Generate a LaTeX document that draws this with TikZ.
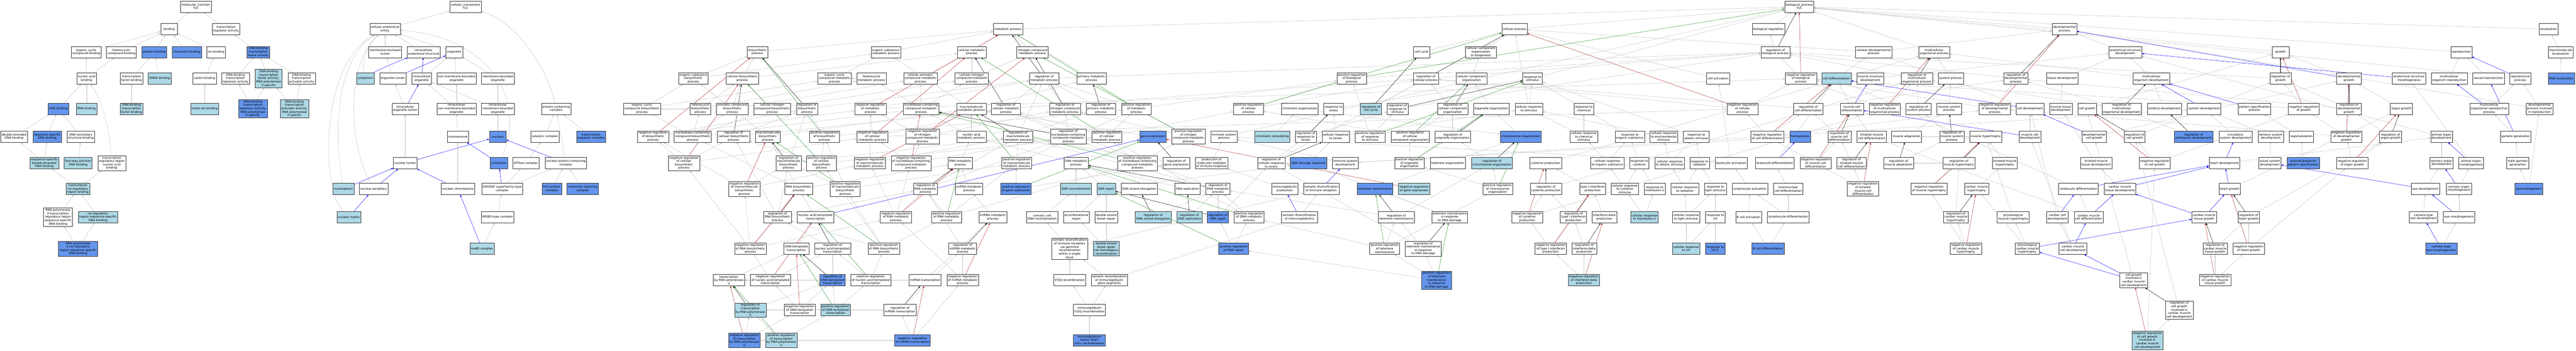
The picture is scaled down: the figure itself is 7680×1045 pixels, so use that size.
\documentclass[tikz,border=0pt]{standalone}
\usepackage{fontspec}
\setmainfont{DejaVu Sans}
\usetikzlibrary{arrows.meta,backgrounds}
\definecolor{lightblu}{RGB}{173,216,230}
\definecolor{cornflower}{RGB}{100,149,237}
\definecolor{firebrk}{RGB}{178,34,34}
\definecolor{forestgrn}{RGB}{34,139,34}
\definecolor{edgegray}{RGB}{192,192,192}
\newcommand\gofont{\fontsize{8.9}{10.2}\selectfont}

\begin{document}
\begin{tikzpicture}[x=1pt,y=-1pt,
    term/.style={draw=black!80, line width=0.7pt, fill=white, align=center, font=\gofont,
                 minimum width=50pt, minimum height=34pt, inner xsep=3pt, inner ysep=2.5pt},
    termlite/.style={term, fill=lightblu},
    termdark/.style={term, fill=cornflower},
    isa/.style={draw=edgegray, line width=0.7pt, -{Latex[length=6pt,width=5pt]}},
    partof/.style={isa, draw=blue},
    regl/.style={isa, draw=black},
    negr/.style={isa, draw=firebrk},
    posr/.style={isa, draw=forestgrn}]
\useasboundingbox (0,0) rectangle (7680,1045);

% molecular function
\node[term] (mf) at (584,20) {molecular\_function\\Yy1};
\node[term] (bind) at (504,87) {binding};
\node[term] (tra) at (674,87) {transcription\\regulator activity};
\node[term] (occb) at (257,155) {organic cyclic\\compound binding};
\node[term] (hcb) at (362,155) {heterocyclic\\compound binding};
\node[termdark] (protb) at (460,155) {protein binding};
\node[termdark] (chromb) at (557,155) {chromatin binding};
\node[term] (ionb) at (644,155) {ion binding};
\node[termdark] (dbtfa) at (770,155) {DNA-binding\\transcription\\factor activity};
\node[term] (nab) at (258,234) {nucleic acid\\binding};
\node[term] (tfb) at (392,234) {transcription\\factor binding};
\node[termlite] (smadb) at (476,234) {SMAD binding};
\node[term] (catb) at (610,234) {cation binding};
\node[term] (dbtra) at (702,234) {DNA-binding\\transcription\\repressor activity};
\node[termlite] (dbtf2) at (801,234) {DNA-binding\\transcription\\factor activity,\\RNA polymerase\\II-specific};
\node[term] (dbtaa) at (899,234) {DNA-binding\\transcription\\activator activity};
\node[termdark] (dnab) at (174,324) {DNA binding};
\node[termlite] (rnab) at (258,324) {RNA binding};
\node[termlite] (dbtfb) at (392,324) {DNA-binding\\transcription\\factor binding};
\node[termlite] (mib) at (610,324) {metal ion binding};
\node[termdark] (dbtra2) at (754,324) {DNA-binding\\transcription\\repressor activity,\\RNA polymerase\\II-specific};
\node[termlite] (dbtaa2) at (878,324) {DNA-binding\\transcription\\activator activity,\\RNA polymerase\\II-specific};
\node[term] (dsdb) at (42,407) {double-stranded\\DNA binding};
\node[termdark] (ssdb) at (141,407) {sequence-specific\\DNA binding};
\node[term] (dssb) at (241,407) {DNA secondary\\structure binding};
\node[termlite] (ssdsdb) at (132,486) {sequence-specific\\double-stranded\\DNA binding};
\node[termlite] (fwjb) at (233,486) {four-way junction\\DNA binding};
\node[term] (trrnab) at (333,486) {transcription\\regulatory region\\nucleic acid\\binding};
\node[termlite] (tcrrb) at (232,563) {transcription\\cis-regulatory\\region binding};
\node[term] (rp2trr) at (173,647) {RNA polymerase\\II transcription\\regulatory region\\sequence-specific\\DNA binding};
\node[termlite] (crrssdb) at (292,647) {cis-regulatory\\region sequence-specific\\DNA binding};
\node[termdark] (rp2crr) at (233,741) {RNA polymerase\\II cis-regulatory\\region sequence-specific\\DNA binding};

% cellular component
\node[term] (cc) at (1388,20) {cellular\_component\\Yy1};
\node[term] (cae) at (1148,87) {cellular anatomical\\entity};
\node[term] (mel) at (1148,155) {membrane-enclosed\\lumen};
\node[term] (ias) at (1263,155) {intracellular\\anatomical structure};
\node[term] (org) at (1354,155) {organelle};
\node[termlite] (cyto) at (1089,234) {cytoplasm};
\node[term] (orgl) at (1171,234) {organelle lumen};
\node[term] (iorg) at (1257,234) {intracellular\\organelle};
\node[term] (nmbo) at (1361,234) {non-membrane-bounded\\organelle};
\node[term] (mbo) at (1484,234) {membrane-bounded\\organelle};
\node[term] (iorgl) at (1208,324) {intracellular\\organelle lumen};
\node[term] (inmbo) at (1361,324) {intracellular\\non-membrane-bounded\\organelle};
\node[term] (imbo) at (1484,324) {intracellular\\membrane-bounded\\organelle};
\node[term] (pcc) at (1658,324) {protein-containing\\complex};
\node[term] (chrom) at (1365,407) {chromosome};
\node[termdark] (nuc) at (1484,407) {nucleus};
\node[term] (catc) at (1624,407) {catalytic complex};
\node[termdark] (trc) at (1762,407) {transcription\\regulator complex};
\node[term] (nlum) at (1208,486) {nuclear lumen};
\node[termdark] (chromatin) at (1487,486) {chromatin};
\node[term] (atpc) at (1568,486) {ATPase complex};
\node[term] (npcc) at (1687,486) {nuclear protein-containing\\complex};
\node[termlite] (nplasm) at (1024,563) {nucleoplasm};
\node[term] (nper) at (1114,563) {nuclear periphery};
\node[term] (nchrom) at (1365,563) {nuclear chromosome};
\node[term] (swisnf) at (1497,563) {SWI/SNF superfamily-type\\complex};
\node[termdark] (pcg) at (1645,563) {PcG protein\\complex};
\node[termdark] (csc) at (1737,563) {chromatin silencing\\complex};
\node[termlite] (nmat) at (1040,647) {nuclear matrix};
\node[term] (ino80t) at (1483,647) {INO80-type complex};
\node[termlite] (ino80) at (1437,741) {Ino80 complex};

% biological process, rows 0-2
\node[term] (bp) at (5364,20) {biological\_process\\Yy1};
\node[term] (mp) at (3005,87) {metabolic process};
\node[term] (cp) at (4515,87) {cellular process};
\node[term] (breg) at (5272,87) {biological regulation};
\node[term] (devp) at (6155,87) {developmental\\process};
\node[term] (loc) at (7598,87) {localization};
\node[term] (bsp) at (2258,155) {biosynthetic\\process};
\node[term] (osmp) at (2641,155) {organic substance\\metabolic process};
\node[term] (cmp) at (2897,155) {cellular metabolic\\process};
\node[term] (ncmp) at (3078,155) {nitrogen compound\\metabolic process};
\node[term] (ccyc) at (4238,155) {cell cycle};
\node[term] (ccob) at (4415,155) {cellular component\\organization\\or biogenesis};
\node[term] (rbp) at (5293,155) {regulation of\\biological process};
\node[term] (cdp) at (5586,155) {cellular developmental\\process};
\node[term] (mop) at (5766,155) {multicellular\\organismal process};
\node[term] (asd) at (6336,155) {anatomical structure\\development};
\node[term] (growth) at (6799,155) {growth};
\node[term] (repro) at (7338,155) {reproduction};
\node[term] (mloc) at (7634,155) {macromolecule\\localization};

% row 3
\node[term] (osbp) at (2067,234) {organic substance\\biosynthetic\\process};
\node[term] (cbp) at (2213,234) {cellular biosynthetic\\process};
\node[term] (occmp) at (2488,234) {organic cyclic\\compound metabolic\\process};
\node[term] (hmp) at (2598,234) {heterocycle\\metabolic process};
\node[term] (cacmp) at (2744,234) {cellular aromatic\\compound metabolic\\process};
\node[term] (cncmp) at (2897,234) {cellular nitrogen\\compound metabolic\\process};
\node[term] (rmp) at (3113,234) {regulation of\\metabolic process};
\node[term] (pmp) at (3254,234) {primary metabolic\\process};
\node[term] (posbio) at (4030,234) {positive regulation\\of biological\\process};
\node[term] (rcp) at (4251,234) {regulation of\\cellular process};
\node[term] (cco) at (4387,234) {cellular component\\organization};
\node[term] (rts) at (4569,234) {response to\\stimulus};
\node[term] (cact) at (5122,234) {cell activation};
\node[term] (negbio) at (5369,234) {negative regulation\\of biological\\process};
\node[termlite] (cdiff) at (5475,234) {cell differentiation};
\node[term] (msd) at (5576,234) {muscle structure\\development};
\node[term] (rmop) at (5715,234) {regulation of\\multicellular\\organismal process};
\node[term] (sysp) at (5816,234) {system process};
\node[term] (rdevp) at (6010,234) {regulation of\\developmental\\process};
\node[term] (tisd) at (6148,234) {tissue development};
\node[term] (mod) at (6414,234) {multicellular\\organism development};
\node[term] (rgrowth) at (6799,234) {regulation of\\growth};
\node[term] (devg) at (7003,234) {developmental\\growth};
\node[term] (asm) at (7182,234) {anatomical structure\\morphogenesis};
\node[term] (morep) at (7302,234) {multicellular\\organism reproduction};
\node[term] (sexr) at (7419,234) {sexual reproduction};
\node[term] (rprocp) at (7514,234) {reproductive\\process};
\node[termdark] (rnaloc) at (7636,234) {RNA localization};

% row 4
\node[term] (occbp) at (1914,324) {organic cyclic\\compound biosynthetic\\process};
\node[term] (hbp) at (2088,324) {heterocycle\\biosynthetic\\process};
\node[term] (acbp) at (2183,324) {aromatic compound\\biosynthetic\\process};
\node[term] (cncbp) at (2302,324) {cellular nitrogen\\compound biosynthetic\\process};
\node[term] (rbsp) at (2406,324) {regulation of\\biosynthetic\\process};
\node[term] (nrmp) at (2595,324) {negative regulation\\of metabolic\\process};
\node[term] (nccmp) at (2746,324) {nucleobase-containing\\compound metabolic\\process};
\node[term] (macmp) at (2896,324) {macromolecule\\metabolic process};
\node[term] (rcmp) at (2999,324) {regulation of\\cellular metabolic\\process};
\node[term] (rncmp) at (3175,324) {regulation of\\nitrogen compound\\metabolic process};
\node[term] (rpmp) at (3282,324) {regulation of\\primary metabolic\\process};
\node[term] (prmp) at (3388,324) {positive regulation\\of metabolic\\process};
\node[term] (prcp) at (3722,324) {positive regulation\\of cellular\\process};
\node[term] (chorg) at (3875,324) {chromatin organization};
\node[term] (rstress) at (3976,324) {response to\\stress};
\node[termlite] (rccyc) at (4087,324) {regulation of\\cell cycle};
\node[term] (rrstim) at (4167,324) {regulation of\\response to\\stimulus};
\node[term] (rcco) at (4331,324) {regulation of\\cellular component\\organization};
\node[term] (oorg) at (4446,324) {organelle organization};
\node[term] (crstim) at (4558,324) {cellular response\\to stimulus};
\node[term] (rchem) at (4722,324) {response to\\chemical};
\node[term] (nrcp) at (5195,324) {negative regulation\\of cellular\\process};
\node[term] (rcdiff) at (5391,324) {regulation of\\cell differentiation};
\node[term] (mcdiff) at (5521,324) {muscle cell\\differentiation};
\node[term] (nrmop) at (5619,324) {negative regulation\\of multicellular\\organismal process};
\node[term] (rsysp) at (5720,324) {regulation of\\system process};
\node[term] (msysp) at (5811,324) {muscle system\\process};
\node[term] (nrdevp) at (5947,324) {negative regulation\\of developmental\\process};
\node[term] (celld) at (6052,324) {cell development};
\node[term] (mtd) at (6144,324) {muscle tissue\\development};
\node[term] (cgrowth) at (6222,324) {cell growth};
\node[term] (rmod) at (6325,324) {regulation of\\multicellular\\organismal development};
\node[term] (embd) at (6453,324) {embryo development};
\node[term] (sysd) at (6571,324) {system development};
\node[term] (pspec) at (6721,324) {pattern specification\\process};
\node[term] (nrgrowth) at (6868,324) {negative regulation\\of growth};
\node[term] (rdevg) at (7003,324) {regulation of\\developmental\\growth};
\node[term] (ogrowth) at (7159,324) {organ growth};
\node[term] (morp) at (7421,324) {multicellular\\organismal reproductive\\process};
\node[term] (dpir) at (7571,324) {developmental\\process involved\\in reproduction};

% row 5
\node[term] (nrbsp) at (1947,407) {negative regulation\\of biosynthetic\\process};
\node[term] (nccbp) at (2065,407) {nucleobase-containing\\compound biosynthetic\\process};
\node[term] (rcbp) at (2187,407) {regulation of\\cellular biosynthetic\\process};
\node[term] (macbp) at (2289,407) {macromolecule\\biosynthetic\\process};
\node[term] (prbsp) at (2458,407) {positive regulation\\of biosynthetic\\process};
\node[term] (nrcmp) at (2601,407) {negative regulation\\of cellular\\metabolic process};
\node[term] (nrncmp) at (2750,407) {negative regulation\\of nitrogen\\compound metabolic\\process};
\node[term] (namp) at (2896,407) {nucleic acid\\metabolic process};
\node[term] (rmacmp) at (3035,407) {regulation of\\macromolecule\\metabolic process};
\node[term] (rnccmp) at (3185,407) {regulation of\\nucleobase-containing\\compound metabolic\\process};
\node[term] (prcmp) at (3300,407) {positive regulation\\of cellular\\metabolic process};
\node[termdark] (gexp) at (3437,407) {gene expression};
\node[term] (prncmp) at (3543,407) {positive regulation\\of nitrogen\\compound metabolic\\process};
\node[term] (isp) at (3649,407) {immune system\\process};
\node[termlite] (chrem) at (3793,407) {chromatin remodeling};
\node[term] (rrstress) at (3893,407) {regulation of\\response to\\stress};
\node[term] (crstress) at (3982,407) {cellular response\\to stress};
\node[term] (prrstim) at (4085,407) {positive regulation\\of response\\to stimulus};
\node[term] (prcco) at (4204,407) {positive regulation\\of cellular\\component organization};
\node[term] (roorg) at (4331,407) {regulation of\\organelle organization};
\node[termdark] (chrorg) at (4534,407) {chromosome organization};
\node[term] (crchem) at (4722,407) {cellular response\\to chemical\\stimulus};
\node[term] (rorgs) at (4859,407) {response to\\organic substance};
\node[term] (crenv) at (4960,407) {cellular response\\to environmental\\stimulus};
\node[term] (rabio) at (5057,407) {response to\\abiotic stimulus};
\node[term] (nrcdiff) at (5269,407) {negative regulation\\of cell differentiation};
\node[termdark] (hemo) at (5367,407) {hemopoiesis};
\node[term] (rmcdiff) at (5484,407) {regulation of\\muscle cell\\differentiation};
\node[term] (smcdiff) at (5580,407) {striated muscle\\cell differentiation};
\node[term] (madapt) at (5684,407) {muscle adaptation};
\node[term] (rmsysp) at (5819,407) {regulation of\\muscle system\\process};
\node[term] (mhyp) at (5920,407) {muscle hypertrophy};
\node[term] (mcdev) at (6052,407) {muscle cell\\development};
\node[term] (dcg) at (6243,407) {developmental\\cell growth};
\node[term] (rcg) at (6364,407) {regulation of\\cell growth};
\node[termdark] (rembd) at (6540,407) {regulation of\\embryonic development};
\node[term] (csd) at (6665,407) {circulatory\\system development};
\node[term] (ssd) at (6770,407) {sensory system\\development};
\node[term] (regio) at (6861,407) {regionalization};
\node[term] (nrdevg) at (6995,407) {negative regulation\\of developmental\\growth};
\node[term] (rog) at (7127,407) {regulation of\\organ growth};
\node[term] (aod) at (7279,407) {animal organ\\development};
\node[term] (gamg) at (7500,407) {gamete generation};

% row 6
\node[term] (nrcbp) at (2039,486) {negative regulation\\of cellular\\biosynthetic\\process};
\node[term] (rmacbp) at (2351,486) {regulation of\\macromolecule\\biosynthetic\\process};
\node[term] (prcbp) at (2449,486) {positive regulation\\of cellular\\biosynthetic\\process};
\node[term] (nrmacmp) at (2593,486) {negative regulation\\of macromolecule\\metabolic process};
\node[term] (nrnccmp) at (2716,486) {negative regulation\\of nucleobase-containing\\compound metabolic\\process};
\node[term] (rnamp) at (2863,486) {RNA metabolic\\process};
\node[term] (prmacmp) at (3031,486) {positive regulation\\of macromolecule\\metabolic process};
\node[term] (dnamp) at (3208,486) {DNA metabolic\\process};
\node[term] (prnccmp) at (3391,486) {positive regulation\\of nucleobase-containing\\compound metabolic\\process};
\node[term] (rgexp) at (3507,486) {regulation of\\gene expression};
\node[term] (pmmir) at (3612,486) {production of\\molecular mediator\\of immune response};
\node[term] (rcrstress) at (3790,486) {regulation of\\cellular response\\to stress};
\node[termdark] (ddr) at (3901,486) {DNA damage response};
\node[term] (isd) at (4011,486) {immune system\\development};
\node[term] (proorg) at (4202,486) {positive regulation\\of organelle\\organization};
\node[term] (telorg) at (4316,486) {telomere organization};
\node[termlite] (rchrorg) at (4448,486) {regulation of\\chromosome organization};
\node[term] (cytp) at (4608,486) {cytokine production};
\node[term] (crorgs) at (4792,486) {cellular response\\to organic substance};
\node[term] (rcyt) at (4887,486) {response to\\cytokine};
\node[term] (crabio) at (4978,486) {cellular response\\to abiotic stimulus};
\node[term] (rrad) at (5067,486) {response to\\radiation};
\node[term] (lact) at (5161,486) {leukocyte activation};
\node[term] (ldiff) at (5291,486) {leukocyte differentiation};
\node[term] (nrmcdiff) at (5413,486) {negative regulation\\of muscle cell\\differentiation};
\node[term] (rsmcdiff) at (5520,486) {regulation of\\striated muscle\\cell differentiation};
\node[term] (rmadapt) at (5660,486) {regulation of\\muscle adaptation};
\node[term] (rmhyp) at (5840,486) {regulation of\\muscle hypertrophy};
\node[term] (smhyp) at (5977,486) {striated muscle\\hypertrophy};
\node[term] (smtd) at (6249,486) {striated muscle\\tissue development};
\node[term] (nrcg) at (6424,486) {negative regulation\\of cell growth};
\node[term] (heartd) at (6632,486) {heart development};
\node[term] (vsd) at (6767,486) {visual system\\development};
\node[termdark] (appspec) at (6867,486) {anterior/posterior\\pattern specification};
\node[term] (nrog) at (7013,486) {negative regulation\\of organ growth};
\node[term] (sod) at (7279,486) {sensory organ\\development};
\node[term] (aom) at (7367,486) {animal organ\\morphogenesis};
\node[term] (mgamg) at (7506,486) {male gamete\\generation};

% row 7
\node[term] (nrmacbp) at (2219,563) {negative regulation\\of macromolecule\\biosynthetic\\process};
\node[term] (rnabp) at (2381,563) {RNA biosynthetic\\process};
\node[term] (prmacbp) at (2520,563) {positive regulation\\of macromolecule\\biosynthetic\\process};
\node[term] (rrnamp) at (2759,563) {regulation of\\RNA metabolic\\process};
\node[term] (ncrnamp) at (2889,563) {ncRNA metabolic\\process};
\node[termdark] (prgexp) at (3029,563) {positive regulation\\of gene expression};
\node[termlite] (dnarec) at (3208,563) {DNA recombination};
\node[termlite] (dnarep) at (3298,563) {DNA repair};
\node[term] (dnase) at (3396,563) {DNA strand elongation};
\node[term] (dnarepl) at (3540,563) {DNA replication};
\node[term] (rdnamp) at (3631,563) {regulation of\\DNA metabolic\\process};
\node[term] (igprod) at (3830,563) {immunoglobulin\\production};
\node[term] (sdir) at (3939,563) {somatic diversification\\of immune receptors};
\node[termdark] (telm) at (4099,563) {telomere maintenance};
\node[termlite] (nrgexp) at (4216,563) {negative regulation\\of gene expression};
\node[term] (prchrorg) at (4465,563) {positive regulation\\of chromosome\\organization};
\node[term] (rcytp) at (4609,563) {regulation of\\cytokine production};
\node[term] (tifnp) at (4748,563) {type I interferon\\production};
\node[term] (crcyt) at (4844,563) {cellular response\\to cytokine\\stimulus};
\node[term] (ril1) at (4933,563) {response to\\interleukin-1};
\node[term] (crrad) at (5023,563) {cellular response\\to radiation};
\node[term] (rlight) at (5114,563) {response to\\light stimulus};
\node[term] (lyact) at (5217,563) {lymphocyte activation};
\node[term] (mncdiff) at (5331,563) {mononuclear\\cell differentiation};
\node[term] (nrsmcdiff) at (5554,563) {negative regulation\\of striated\\muscle cell\\differentiation};
\node[term] (nrmhyp) at (5751,563) {negative regulation\\of muscle hypertrophy};
\node[term] (cmhyp) at (5893,563) {cardiac muscle\\hypertrophy};
\node[term] (cardiod) at (6196,563) {cardiocyte differentiation};
\node[term] (cmtd) at (6320,563) {cardiac muscle\\tissue development};
\node[term] (heartg) at (6647,563) {heart growth};
\node[term] (eyed) at (7231,563) {eye development};
\node[term] (som) at (7331,563) {sensory organ\\morphogenesis};
\node[termdark] (sperm) at (7539,563) {spermatogenesis};

% row 8
\node[term] (rrnabp) at (2318,647) {regulation of\\RNA biosynthetic\\process};
\node[term] (natt) at (2431,647) {nucleic acid-templated\\transcription};
\node[term] (nrrnamp) at (2671,647) {negative regulation\\of RNA metabolic\\process};
\node[term] (prrnamp) at (2822,647) {positive regulation\\of RNA metabolic\\process};
\node[term] (mirmp) at (2960,647) {miRNA metabolic\\process};
\node[term] (scdr) at (3107,647) {somatic cell\\DNA recombination};
\node[term] (recrep) at (3209,647) {recombinational\\repair};
\node[term] (dsbr) at (3298,647) {double-strand\\break repair};
\node[termlite] (rdnase) at (3438,647) {regulation of\\DNA strand elongation};
\node[termlite] (rdnarepl) at (3546,647) {regulation of\\DNA replication};
\node[termdark] (rdnarep) at (3631,647) {regulation of\\DNA repair};
\node[term] (prdnamp) at (3724,647) {positive regulation\\of DNA metabolic\\process};
\node[term] (sdig) at (3874,647) {somatic diversification\\of immunoglobulins};
\node[term] (rtelm) at (4163,647) {regulation of\\telomere maintenance};
\node[term] (tmdd) at (4322,647) {telomere maintenance\\in response\\to DNA damage};
\node[term] (nrcytp) at (4553,647) {negative regulation\\of cytokine\\production};
\node[term] (rtifnp) at (4691,647) {regulation of\\type I interferon\\production};
\node[term] (ifnbp) at (4783,647) {interferon-beta\\production};
\node[termlite] (cril1) at (4903,647) {cellular response\\to interleukin-1};
\node[term] (crlight) at (5027,647) {cellular response\\to light stimulus};
\node[term] (ruv) at (5114,647) {response to\\UV};
\node[term] (bcact) at (5213,647) {B cell activation};
\node[term] (lydiff) at (5331,647) {lymphocyte differentiation};
\node[term] (rcmhyp) at (5831,647) {regulation of\\cardiac muscle\\hypertrophy};
\node[term] (pmhyp) at (6002,647) {physiological\\muscle hypertrophy};
\node[term] (ccd) at (6134,647) {cardiac cell\\development};
\node[term] (cmcdiff) at (6227,647) {cardiac muscle\\cell differentiation};
\node[term] (cmtg) at (6571,647) {cardiac muscle\\tissue growth};
\node[term] (rheartg) at (6704,647) {regulation of\\heart growth};
\node[term] (cted) at (7225,647) {camera-type\\eye development};
\node[term] (eyem) at (7331,647) {eye morphogenesis};

% row 9
\node[term] (nrrnabp) at (2237,741) {negative regulation\\of RNA biosynthetic\\process};
\node[term] (dtt) at (2374,741) {DNA-templated\\transcription};
\node[term] (rnatt) at (2482,741) {regulation of\\nucleic acid-templated\\transcription};
\node[term] (prrnabp) at (2635,741) {positive regulation\\of RNA biosynthetic\\process};
\node[term] (rmirmp) at (2870,741) {regulation of\\miRNA metabolic\\process};
\node[term] (sdgl) at (3189,741) {somatic diversification\\of immune receptors\\via germline\\recombination\\within a single\\locus};
\node[termlite] (dsbrhr) at (3298,741) {double-strand\\break repair\\via homologous\\recombination};
\node[termdark] (prdnarep) at (3678,741) {positive regulation\\of DNA repair};
\node[term] (prtelm) at (4128,741) {positive regulation\\of telomere\\maintenance};
\node[term] (rtmdd) at (4243,741) {regulation of\\telomere maintenance\\in response\\to DNA damage};
\node[term] (nrtifnp) at (4623,741) {negative regulation\\of type I interferon\\production};
\node[term] (rifnbp) at (4723,741) {regulation of\\interferon-beta\\production};
\node[termlite] (cruv) at (5027,741) {cellular response\\to UV};
\node[termdark] (ruvc) at (5114,741) {response to\\UV-C};
\node[termdark] (bcdiff) at (5271,741) {B cell differentiation};
\node[term] (nrcmhyp) at (5861,741) {negative regulation\\of cardiac muscle\\hypertrophy};
\node[term] (pcmhyp) at (6044,741) {physiological\\cardiac muscle\\hypertrophy};
\node[term] (cmcd) at (6180,741) {cardiac muscle\\cell development};
\node[term] (rcmtg) at (6604,741) {regulation of\\cardiac muscle\\tissue growth};
\node[term] (nrheartg) at (6704,741) {negative regulation\\of heart growth};
\node[termdark] (ctem) at (7278,741) {camera-type\\eye morphogenesis};

% rows 10-12
\node[term] (trnap2) at (2173,835) {transcription\\by RNA polymerase\\II};
\node[term] (nrnatt) at (2297,835) {negative regulation\\of nucleic acid-templated\\transcription};
\node[termdark] (rdtt) at (2482,835) {regulation of\\DNA-templated\\transcription};
\node[term] (prnatt) at (2596,835) {positive regulation\\of nucleic acid-templated\\transcription};
\node[term] (mirt) at (2758,835) {miRNA transcription};
\node[term] (nrmirmp) at (2870,835) {negative regulation\\of miRNA metabolic\\process};
\node[term] (vdj) at (3189,835) {V(D)J recombination};
\node[term] (sorig) at (3307,835) {somatic recombination\\of immunoglobulin\\gene segments};
\node[termdark] (prtmdd) at (4283,835) {positive regulation\\of telomere\\maintenance\\in response\\to DNA damage};
\node[termlite] (nrifnbp) at (4722,835) {negative regulation\\of interferon-beta\\production};
\node[term] (cgcmcd) at (6361,835) {cell growth\\involved in\\cardiac muscle\\cell development};
\node[term] (nrcmtg) at (6604,835) {negative regulation\\of cardiac muscle\\tissue growth};
\node[termlite] (rtrnap2) at (2237,924) {regulation of\\transcription\\by RNA polymerase\\II};
\node[term] (nrdtt) at (2384,924) {negative regulation\\of DNA-templated\\transcription};
\node[termlite] (prdtt) at (2491,924) {positive regulation\\of DNA-templated\\transcription};
\node[term] (rmirt) at (2683,924) {regulation of\\miRNA transcription};
\node[term] (igvdj) at (3248,924) {immunoglobulin\\V(D)J recombination};
\node[term] (rcgcmcd) at (6497,924) {regulation of\\cell growth\\involved in\\cardiac muscle\\cell development};
\node[termdark] (nrtrnap2) at (2219,1014) {negative regulation\\of transcription\\by RNA polymerase\\II};
\node[termlite] (prtrnap2) at (2329,1014) {positive regulation\\of transcription\\by RNA polymerase\\II};
\node[termdark] (nrmirt) at (2720,1014) {negative regulation\\of miRNA transcription};
\node[termdark] (ighc) at (3248,1014) {immunoglobulin\\heavy chain\\V-D-J recombination};
\node[termlite] (nrcgcmcd) at (6402,1014) {negative regulation\\of cell growth\\involved in\\cardiac muscle\\cell development};

\begin{pgfonlayer}{background}
\fill[white] (0,0) rectangle (7680,1045);
% curved is_a edges
\draw[isa] (trrnab) .. controls (326,380) and (305,300) .. (nab);
\draw[isa] (cyto) .. controls (1078,180) and (1095,135) .. (cae);
\draw[isa] (nplasm) .. controls (995,400) and (1000,175) .. (cae);
\draw[isa] (nper) .. controls (1035,420) and (1035,185) .. (cae);
\draw[isa] (nmat) .. controls (955,560) and (955,190) .. (cae);
\draw[isa] (chromatin) .. controls (1575,300) and (1460,110) .. (cae);
\draw[isa] (pcc) .. controls (1625,180) and (1525,60) .. (cc);
% is_a edges
\foreach \a/\b in {bind/mf, tra/mf, occb/bind, hcb/bind, protb/bind, chromb/bind, ionb/bind, nab/occb, nab/hcb,
    tfb/protb, smadb/protb, catb/ionb, dnab/nab, rnab/nab, dbtfb/tfb, mib/catb, dsdb/dnab, ssdb/dnab,
    dssb/dnab, ssdsdb/dsdb, ssdsdb/ssdb, fwjb/dssb, tcrrb/ssdsdb, tcrrb/trrnab, rp2trr/tcrrb, crrssdb/tcrrb,
    rp2crr/rp2trr, rp2crr/crrssdb, dbtfa/tra, dbtra/dbtfa, dbtf2/dbtfa, dbtaa/dbtfa, dbtra2/dbtra, dbtra2/dbtf2,
    dbtaa2/dbtf2, dbtaa2/dbtaa,
    cae/cc, mel/cae, ias/cae, org/cae, orgl/mel,
    iorg/org, nmbo/org, mbo/org, inmbo/nmbo, inmbo/iorg, imbo/mbo, imbo/iorg, iorgl/orgl, nlum/iorgl, chrom/inmbo,
    nuc/imbo, nchrom/chrom, swisnf/atpc, swisnf/npcc, ino80t/swisnf, ino80/ino80t, catc/pcc, trc/pcc, npcc/pcc,
    atpc/catc, pcg/npcc, csc/npcc,
    mp/bp, cp/bp, breg/bp, devp/bp, loc/bp, rts/bp, isp/bp, growth/bp, repro/bp, mop/bp, rprocp/bp, rbp/breg,
    negbio/rbp, posbio/rbp,
    osmp/mp, cmp/mp, ncmp/mp, pmp/mp, bsp/mp, osbp/bsp, osbp/osmp, cbp/bsp, cbp/cmp, occmp/osmp, hmp/occmp,
    cacmp/cmp, cncmp/cmp, cncmp/ncmp, rmp/rbp, occbp/osbp, occbp/occmp, hbp/cbp, hbp/hmp, hbp/occbp, acbp/cbp,
    acbp/cacmp, cncbp/cbp, cncbp/cncmp, rbsp/rmp, nrmp/rmp, nrmp/negbio, nccmp/cacmp, nccmp/hmp, nccmp/cncmp,
    macmp/osmp, macmp/pmp, rcmp/rmp, rcmp/rcp, rncmp/rmp, rpmp/rmp, prmp/rmp, prmp/posbio, nrbsp/rbsp, nrbsp/nrmp,
    nccbp/hbp, nccbp/acbp, nccbp/cncbp, nccbp/occbp, nccbp/nccmp, rcbp/rbsp, rcbp/rcmp, macbp/osbp, macbp/macmp,
    prbsp/rbsp, prbsp/prmp, nrcmp/nrmp, nrcmp/rcmp, nrcmp/nrcp, nrncmp/nrmp, nrncmp/rncmp, namp/nccmp, namp/macmp,
    rmacmp/rmp, rmacmp/rpmp, rnccmp/rcmp, rnccmp/rncmp, prcmp/prmp, prcmp/rcmp, prcmp/prcp, gexp/macmp,
    prncmp/prmp, prncmp/rncmp, nrcbp/nrbsp, nrcbp/rcbp, nrcbp/nrcmp, rmacbp/rbsp, rmacbp/rmacmp, prcbp/prbsp,
    prcbp/rcbp, prcbp/prcmp, nrmacmp/nrmp, nrmacmp/rmacmp, nrnccmp/nrcmp, nrnccmp/nrncmp, nrnccmp/rnccmp,
    rnamp/namp, prmacmp/prmp, prmacmp/rmacmp, dnamp/namp, prnccmp/prcmp, prnccmp/prncmp, prnccmp/rnccmp,
    rgexp/rmacmp, nrmacbp/nrbsp, nrmacbp/rmacbp, nrmacbp/nrmacmp, rnabp/macbp, rnabp/nccbp, rnabp/rnamp,
    prmacbp/prbsp, prmacbp/rmacbp, prmacbp/prmacmp, rrnamp/rnccmp, rrnamp/rmacmp, ncrnamp/rnamp, prgexp/rgexp,
    prgexp/prmacmp, rrnabp/rcbp, rrnabp/rmacbp, rrnabp/rrnamp, natt/rnabp, nrrnamp/rrnamp, nrrnamp/nrnccmp,
    nrrnamp/nrmacmp, prrnamp/rrnamp, prrnamp/prnccmp, prrnamp/prmacmp, mirmp/ncrnamp, nrrnabp/nrmacbp,
    nrrnabp/rrnabp, nrrnabp/nrcbp, nrrnabp/nrrnamp, dtt/natt, rnatt/rrnabp, prrnabp/prmacbp, prrnabp/rrnabp,
    prrnabp/prrnamp, prrnabp/prcbp, rmirmp/rrnamp, trnap2/dtt, nrnatt/nrrnabp, nrnatt/rnatt, rdtt/rnatt,
    prnatt/rnatt, prnatt/prrnabp, mirt/trnap2, mirt/mirmp, nrmirmp/rmirmp, nrmirmp/nrrnamp, rtrnap2/rdtt,
    nrdtt/nrnatt, nrdtt/rdtt, prdtt/rdtt, prdtt/prnatt, rmirt/rtrnap2, rmirt/rmirmp, nrtrnap2/rtrnap2,
    nrtrnap2/nrdtt, prtrnap2/rtrnap2, prtrnap2/prdtt, nrmirt/rmirt, nrmirt/nrmirmp, nrmirt/nrtrnap2,
    dnarec/dnamp, dnarep/dnamp, dnarep/ddr, dnase/dnamp, dnarepl/dnamp, rdnamp/rcmp, rdnamp/rmacmp,
    rdnarep/rdnamp, rdnarep/rcrstress, rdnase/rdnamp, rdnarepl/rdnamp, prdnamp/rdnamp, prdnamp/prcmp,
    prdnarep/rdnarep, prdnarep/prdnamp, dsbr/dnarep, recrep/dnarep, recrep/dnarec, dsbrhr/dsbr, dsbrhr/recrep,
    scdr/dnarec, sdgl/scdr, sdgl/sdir, vdj/sdgl, sorig/sdig, sorig/sdgl, igvdj/vdj, igvdj/sorig, ighc/igvdj,
    sdig/sdir, igprod/pmmir, pmmir/isp, isd/isp, isd/sysd, ddr/crstress, crstress/rstress, crstress/crstim,
    rstress/rts, rrstress/rrstim, rcrstress/rrstress, rcrstress/rcp, chrem/chorg, chorg/chrorg, telorg/chrorg,
    telm/telorg, rtelm/rchrorg, rtelm/rdnamp, tmdd/telm, tmdd/ddr, prtelm/rtelm, prtelm/prchrorg, prtelm/prdnamp,
    rtmdd/rtelm, rtmdd/rcrstress, prtmdd/rtmdd, prtmdd/prtelm, prtmdd/prdnarep,
    ccyc/cp, ccob/cp, cco/ccob, oorg/cco, chrorg/oorg, rccyc/rcp, rcp/rbp, prcp/posbio, prcp/rcp, nrcp/negbio,
    nrcp/rcp, rcco/rcp, roorg/rcco, prcco/rcco, prcco/prcp, proorg/roorg, proorg/prcco, rchrorg/roorg,
    prchrorg/rchrorg, prchrorg/proorg, rrstim/rbp, prrstim/rrstim, prrstim/posbio, crstim/rts, crstim/cp,
    rchem/rts, crchem/rchem, crchem/crstim, rorgs/rchem, crorgs/crchem, crorgs/rorgs, rcyt/rorgs, crcyt/crorgs,
    crcyt/rcyt, ril1/rcyt, cril1/crcyt, cril1/ril1, crenv/crstim, rabio/rts, crabio/rabio, crabio/crenv,
    rrad/rabio, crrad/crabio, crrad/rrad, rlight/rrad, crlight/crrad, crlight/rlight, ruv/rlight, cruv/crlight,
    cruv/ruv, ruvc/ruv,
    cytp/mop, rcytp/rmop, nrcytp/rcytp, nrcytp/nrmop, tifnp/cytp, rtifnp/rcytp, ifnbp/tifnp, nrtifnp/rtifnp,
    nrtifnp/nrcytp, rifnbp/rtifnp, nrifnbp/rifnbp, nrifnbp/nrtifnp,
    cact/cp, lact/cact, lact/isp, lyact/lact, bcact/lyact, cdp/devp, cdp/cp, cdiff/cdp, rcdiff/rdevp, rcdiff/rcp,
    nrcdiff/rcdiff, nrcdiff/nrdevp, nrcdiff/nrcp, hemo/isd, ldiff/cdiff, mncdiff/ldiff, lydiff/mncdiff,
    lydiff/lyact, bcdiff/lydiff, bcdiff/bcact, mcdiff/cdiff, rmcdiff/rcdiff, smcdiff/mcdiff, nrmcdiff/rmcdiff,
    nrmcdiff/nrcdiff, rsmcdiff/rmcdiff, nrsmcdiff/rsmcdiff, nrsmcdiff/nrmcdiff, msd/asd,
    sysp/mop, rmop/rbp, nrmop/rmop, nrmop/negbio, rsysp/rmop, msysp/sysp, rmsysp/rsysp, madapt/msysp,
    rmadapt/rmsysp, mhyp/madapt, rmhyp/rmadapt, nrmhyp/rmhyp, smhyp/mhyp, cmhyp/smhyp, rcmhyp/rmhyp,
    nrcmhyp/rcmhyp, nrcmhyp/nrmhyp, pmhyp/mhyp, pcmhyp/pmhyp, pcmhyp/cmhyp,
    asd/devp, tisd/asd, mtd/tisd, smtd/mtd, cmtd/smtd, celld/cdp, mcdev/celld, ccd/celld, cmcd/ccd, cmcd/mcdev,
    cmcdiff/cardiod, cmcdiff/smcdiff, cardiod/cdiff, cgrowth/growth, dcg/cgrowth, dcg/devg, cgcmcd/dcg,
    rcg/rgrowth, nrcg/rcg, nrcg/nrgrowth, rcgcmcd/rcg, nrcgcmcd/rcgcmcd, nrcgcmcd/nrcg, rgrowth/rbp,
    nrgrowth/rgrowth, nrgrowth/negbio, devg/growth, rdevg/rgrowth, rdevg/rdevp, nrdevg/rdevg, nrdevg/nrgrowth,
    nrdevg/nrdevp, rdevp/rbp, nrdevp/rdevp, nrdevp/negbio, mod/asd, mod/mop, rmod/rmop, rmod/rdevp, rembd/rmod,
    embd/mod, csd/sysd, heartd/aod, ssd/sysd, vsd/ssd, regio/pspec, appspec/regio, heartg/ogrowth, ogrowth/devg,
    rog/rdevg, nrog/rog, nrog/nrdevg, rheartg/rog, nrheartg/rheartg, nrheartg/nrog, rcmtg/rheartg,
    nrcmtg/rcmtg, nrcmtg/nrheartg, aod/asd, sod/aod, aom/asm, eyed/sod, som/aom, cted/eyed, eyem/som,
    ctem/eyem, morep/repro, sexr/repro, morp/rprocp, dpir/rprocp, dpir/devp, gamg/morp, mgamg/gamg,
    sperm/mgamg, sperm/dpir, mloc/loc, rnaloc/mloc}
  \draw[isa] (\a) -- (\b);
% part_of edges
\draw[partof] (cyto) .. controls (1120,212) and (1180,185) .. (ias);
\foreach \a/\b in {orgl/org, iorg/ias, iorgl/iorg, nplasm/nlum, nper/nlum, nmat/nper, nlum/nuc,
    nchrom/nlum, chromatin/chrom, swisnf/chromatin, ino80/nchrom, npcc/nuc, natt/gexp, ldiff/hemo, mcdiff/msd,
    sdir/isd, sdig/igprod, celld/cdiff, mcdev/mcdiff, dcg/celld, cmcd/cmcdiff, ccd/cardiod, cgcmcd/pcmhyp,
    cgcmcd/cmcd, pcmhyp/cmtg, cmtg/cmtd, cmtg/heartg, cmcdiff/cmtd, cardiod/heartd, cmtd/heartd,
    heartg/heartd, heartd/csd, sysd/mod, pspec/mod, asm/asd, devg/devp, eyed/vsd, aom/aod, som/sod,
    eyem/eyed, ctem/cted, gamg/sexr, morp/morep, rprocp/repro}
  \draw[partof] (\a) -- (\b);
% regulates edges
\foreach \a/\b in {rbp/bp, rbsp/bsp, rcbp/cbp, rmacbp/macbp, rrnabp/rnabp, rnatt/natt, rdtt/dtt,
    rtrnap2/trnap2, rmp/mp, rcmp/cmp, rncmp/ncmp, rpmp/pmp, rmacmp/macmp, rnccmp/nccmp, rgexp/gexp,
    rrnamp/rnamp, rmirmp/mirmp, rmirt/mirt, rdnamp/dnamp, rdnarep/dnarep, rdnase/dnase, rdnarepl/dnarepl,
    rrstress/rstress, rcrstress/crstress, rccyc/ccyc, rcp/cp, rcco/cco, roorg/oorg, rchrorg/chrorg,
    rtelm/telm, rtmdd/tmdd, rrstim/rts, rcytp/cytp, rtifnp/tifnp, rifnbp/ifnbp, rcdiff/cdiff,
    rmcdiff/mcdiff, rsmcdiff/smcdiff, rmadapt/madapt, rmhyp/mhyp, rcmhyp/cmhyp, rmsysp/msysp, rsysp/sysp,
    rmop/mop, rdevp/devp, rcg/cgrowth, rgrowth/growth, rdevg/devg, rheartg/heartg, rcmtg/cmtg, rog/ogrowth,
    rmod/mod, rembd/embd, rcgcmcd/cgcmcd}
  \draw[regl] (\a) -- (\b);
% negatively regulates edges
\foreach \a/\b in {negbio/bp, nrbsp/bsp, nrcbp/cbp, nrmacbp/macbp, nrrnabp/rnabp, nrnatt/natt, nrdtt/dtt,
    nrtrnap2/trnap2, nrmp/mp, nrcmp/cmp, nrncmp/ncmp, nrmacmp/macmp, nrnccmp/nccmp, nrgexp/gexp,
    nrrnamp/rnamp, nrmirmp/mirmp, nrmirt/mirt, nrcp/cp, nrcytp/cytp, nrtifnp/tifnp, nrifnbp/ifnbp,
    nrcdiff/cdiff, nrmcdiff/mcdiff, nrsmcdiff/smcdiff, nrmhyp/mhyp, nrcmhyp/cmhyp, nrmop/mop, nrdevp/devp,
    nrcg/cgrowth, nrgrowth/growth, nrdevg/devg, nrheartg/heartg, nrcmtg/cmtg, nrog/ogrowth,
    nrcgcmcd/cgcmcd}
  \draw[negr] (\a) -- (\b);
% positively regulates edges
\foreach \a/\b in {posbio/bp, prbsp/bsp, prcbp/cbp, prmacbp/macbp, prrnabp/rnabp, prnatt/natt, prdtt/dtt,
    prtrnap2/trnap2, prmp/mp, prcmp/cmp, prncmp/ncmp, prmacmp/macmp, prnccmp/nccmp, prgexp/gexp,
    prrnamp/rnamp, prdnamp/dnamp, prdnarep/dnarep, prcp/cp, prcco/cco, proorg/oorg, prchrorg/chrorg,
    prtelm/telm, prtmdd/tmdd, prrstim/rts}
  \draw[posr] (\a) -- (\b);
\end{pgfonlayer}
\end{tikzpicture}
\end{document}
